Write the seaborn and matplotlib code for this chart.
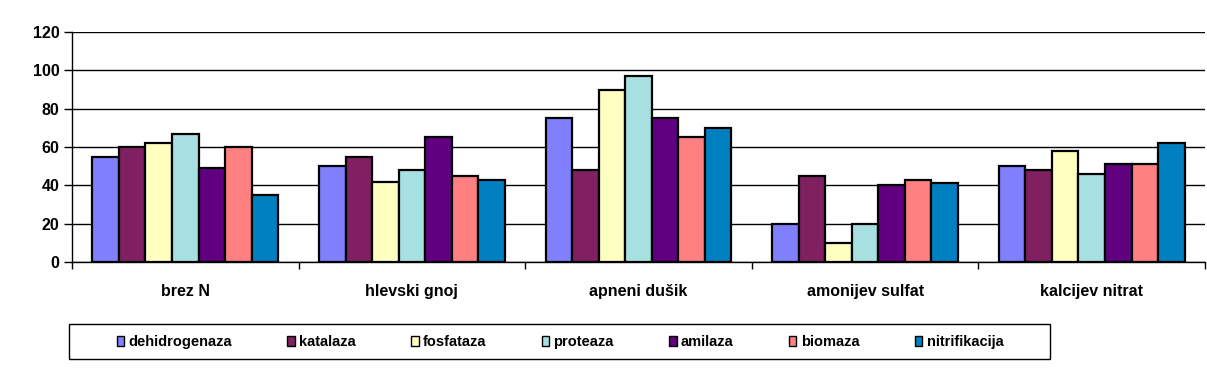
import numpy as np
import pandas as pd
import matplotlib
matplotlib.use("Agg")
import matplotlib.pyplot as plt
from matplotlib.patches import Rectangle
from matplotlib.ticker import FixedLocator
import seaborn as sns

# --- data ---
treatments = ["brez N", "hlevski gnoj", "apneni dušik", "amonijev sulfat", "kalcijev nitrat"]
dehidrogenaza = [55, 50, 75, 20, 50]
katalaza = [60, 55, 48, 45, 48]
fosfataza = [62, 42, 90, 10, 58]
proteaza = [67, 48, 97, 20, 46]
amilaza = [49, 65, 75, 40, 51]
biomaza = [60, 45, 65, 43, 51]
nitrifikacija = [35, 43, 70, 41, 62]

series = {
    "dehidrogenaza": dehidrogenaza,
    "katalaza": katalaza,
    "fosfataza": fosfataza,
    "proteaza": proteaza,
    "amilaza": amilaza,
    "biomaza": biomaza,
    "nitrifikacija": nitrifikacija,
}
colors = ["#8080FF", "#802060", "#FFFFC0", "#A6E0E0", "#600080", "#FF8080", "#0080C0"]

df = pd.DataFrame(
    [(t, name, v) for name, vals in series.items() for t, v in zip(treatments, vals)],
    columns=["treatment", "parameter", "value"],
)

sns.set_theme(style="white")
plt.rcParams["font.family"] = ["Liberation Sans", "DejaVu Sans"]
plt.rcParams["font.weight"] = "bold"
plt.rcParams["text.color"] = "black"
plt.rcParams["xtick.color"] = "black"
plt.rcParams["ytick.color"] = "black"

W, H = 1207, 377
fig = plt.figure(figsize=(W / 100, H / 100), dpi=100)
ax = fig.add_axes([72 / W, 115 / H, 1133 / W, 230 / H])

sns.barplot(
    data=df, x="treatment", y="value", hue="parameter",
    order=treatments, hue_order=list(series), palette=colors, saturation=1,
    width=0.82, gap=0, edgecolor="black", linewidth=1.6,
    legend=True, ax=ax,
)

ax.set_ylim(0, 120)
ax.set_xlim(-0.5, len(treatments) - 0.5)
ax.set_yticks(np.arange(0, 121, 20))
ax.yaxis.grid(True, color="black", linewidth=1)
ax.set_axisbelow(True)
for s in ["top", "right"]:
    ax.spines[s].set_visible(False)
for s in ["left", "bottom"]:
    ax.spines[s].set_color("black")
    ax.spines[s].set_linewidth(1)

ax.set_xlabel("")
ax.set_ylabel("")
ax.tick_params(axis="y", which="major", left=True, length=6, width=1,
               pad=3, labelsize=11.5)
ax.tick_params(axis="x", which="major", bottom=False, pad=10, labelsize=11.5)
ax.xaxis.set_minor_locator(FixedLocator(np.arange(-0.5, len(treatments), 1.0)))
ax.tick_params(axis="x", which="minor", bottom=True, length=5, width=1)
for lab in ax.get_xticklabels() + ax.get_yticklabels():
    lab.set_fontweight("bold")

# legend box drawn separately (wider than its content, as in the original)
fig.patches.append(Rectangle((69 / W, 18 / H), 981 / W, 35 / H, transform=fig.transFigure,
                             facecolor="white", edgecolor="black", linewidth=1))

handles, labels = ax.get_legend_handles_labels()
ax.get_legend().remove()
leg = fig.legend(
    handles, labels, ncol=7, loc="center",
    bbox_to_anchor=(560 / W, 35 / H),
    frameon=False, handlelength=0.5, handleheight=0.7, handletextpad=0.3,
    columnspacing=3.8, prop={"weight": "bold", "size": 10.5},
)
for h in leg.legend_handles:
    h.set_edgecolor("black")
    h.set_linewidth(1)

fig.savefig("out.png", dpi=100)
